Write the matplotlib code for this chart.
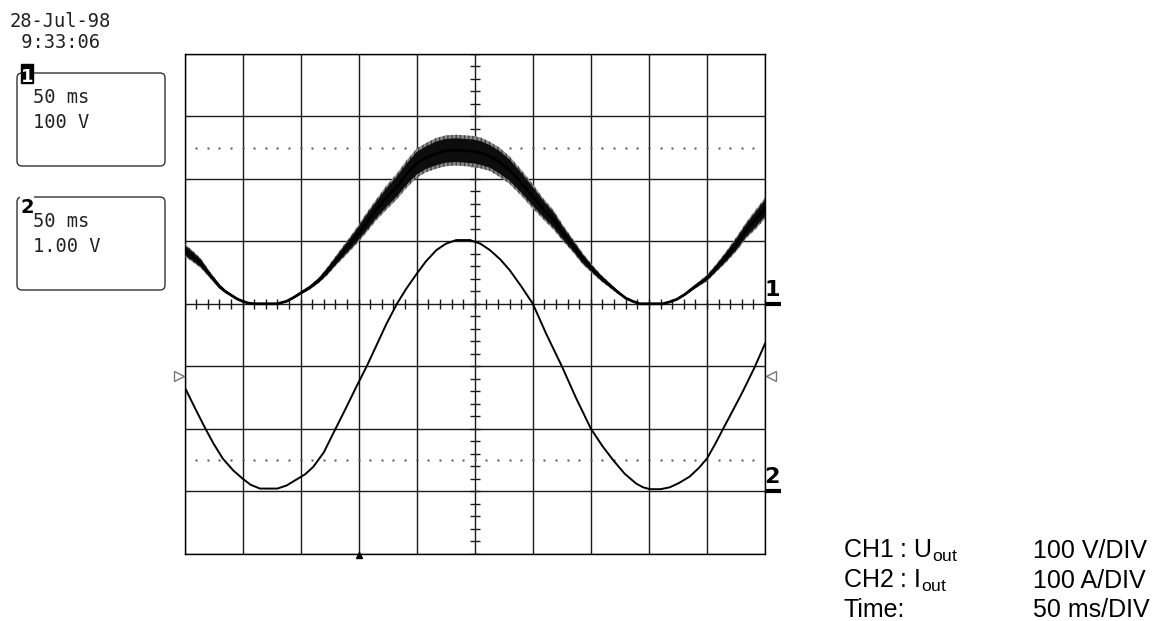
import numpy as np
import matplotlib
matplotlib.use("Agg")
import matplotlib.pyplot as plt
from matplotlib.patches import FancyBboxPatch, Rectangle

plt.rcParams['mathtext.fontset'] = 'custom'
plt.rcParams['mathtext.rm'] = 'Liberation Sans'
plt.rcParams['mathtext.it'] = 'Liberation Sans'

# Scope settings
time_per_div = 50      # ms/DIV
ch1_per_div = 100      # V/DIV
ch2_per_div = 100      # A/DIV
ch1_ground = 0         # divisions from screen centre
ch2_ground = -3

# CH1 : U_out (ms, V), plus the half height of the ripple band
ch1_t = [0, 7, 14, 22, 30, 35, 40, 45, 50, 55, 60, 80, 84, 88, 94, 100, 108, 116,
         123, 130, 139, 148, 156, 165, 174, 183, 191, 200, 208, 217, 225, 234,
         249, 256, 263, 271, 280, 290, 300, 309, 318, 326, 335, 343, 352, 359,
         366, 373, 380, 386, 392, 412, 418, 424, 431, 438, 444, 450, 458, 467,
         476, 484, 492, 500]
ch1_v = [86, 76, 65, 46, 28, 20, 14, 8, 4, 1, 0, 0, 2, 4, 10, 17, 26, 38,
         52, 68, 88, 108, 128, 150, 170, 188, 207, 225, 234, 241, 245, 246,
         244, 241, 236, 227, 214, 194, 172, 152, 134, 113, 92, 72, 54, 41,
         30, 19, 9, 4, 0, 0, 3, 7, 15, 25, 33, 41, 57, 76,
         97, 118, 135, 153]
ch1_ripple = [8, 7, 6, 4, 3, 2, 1.5, 1, 1, 0.5, 0.5, 0.5, 0.5, 1, 1, 2, 2.5, 3.5,
              5, 6, 8, 10, 12, 13, 15, 16, 17, 18, 18, 19, 19, 19,
              19, 19, 18, 18, 17, 16, 15, 13, 12, 10, 8, 7, 5, 4,
              3, 2, 1, 1, 0.5, 0.5, 0.5, 1, 1.5, 2.5, 3, 4, 5, 7,
              9, 10, 12, 13]

# CH2 : I_out (ms, A)
ch2_t = [0, 9, 18, 25, 33, 42, 50, 57, 65, 80, 88, 96, 104, 111, 120, 128, 138,
         148, 157, 166, 174, 183, 191, 200, 208, 217, 225, 234, 246, 255, 263,
         272, 280, 290, 300, 312, 325, 337, 350, 360, 369, 379, 389, 395, 401,
         410, 418, 426, 435, 443, 450, 457, 464, 472, 481, 491, 500]
ch2_i = [167, 133, 100, 76, 52, 33, 20, 10, 4, 4, 9, 18, 27, 39, 62, 92, 129,
         167, 200, 236, 268, 300, 324, 348, 368, 386, 396, 402, 402, 396, 386,
         371, 354, 328, 300, 250, 200, 150, 100, 72, 50, 28, 12, 6, 3,
         3, 6, 13, 23, 37, 52, 75, 100, 128, 160, 198, 236]

trig_level = -1.16     # divisions
trig_time = 150        # ms

legend_left = ['CH1 : U$_{\\mathrm{out}}$', 'CH2 : I$_{\\mathrm{out}}$', 'Time:']
legend_right = ['100 V/DIV', '100 A/DIV', '50 ms/DIV']

W, H = 1161, 621
fig = plt.figure(figsize=(W / 100, H / 100), dpi=100)

# overlay in pixel coords for the side panels
ov = fig.add_axes([0, 0, 1, 1])
ov.set_xlim(0, W)
ov.set_ylim(H, 0)
ov.axis('off')

ax = fig.add_axes([184.5 / W, 1 - 553.5 / H, (765 - 184.5) / W, (553.5 - 54) / H])
ax.set_xlim(0, 10 * time_per_div)
ax.set_ylim(-4, 4)
ax.set_xticks(np.arange(0, 10 * time_per_div + 1, time_per_div))
ax.set_yticks(np.arange(-4, 5, 1))
ax.tick_params(length=0, labelbottom=False, labelleft=False)
ax.grid(True, color='#1a1a1a', lw=1.0)
for s in ax.spines.values():
    s.set_color('black')
    s.set_linewidth(1.0)

# minor ticks on the centre lines
minor_x = np.arange(0, 10 * time_per_div + 1, time_per_div / 5)
ax.vlines(minor_x, -0.08, 0.08, color='#1a1a1a', lw=1.0)
minor_y = np.arange(-4, 4.01, 0.2)
ax.hlines(minor_y, 5 * time_per_div - 4.3, 5 * time_per_div + 4.3, color='#1a1a1a', lw=1.0)

# dotted reference lines
dots_x = np.arange(time_per_div / 5, 10 * time_per_div, time_per_div / 5)
for lvl in (2.5, -2.5):
    ax.plot(dots_x, np.full(len(dots_x), lvl), ls='none', marker='s', ms=1.5,
            mec='none', mfc='#555555')

# traces
t1 = np.array(ch1_t)
y1 = np.array(ch1_v) / ch1_per_div + ch1_ground
r1 = np.array(ch1_ripple) / ch1_per_div
ax.fill_between(t1, y1 - 1.3 * r1, y1 + 1.3 * r1, facecolor='#8a8a8a', edgecolor='#444444',
                hatch='||||', lw=0, zorder=3)
ax.fill_between(t1, y1 - r1, y1 + r1, facecolor='#0d0d0d', lw=0, zorder=3)
ax.plot(t1, y1, color='black', lw=2.0, zorder=4)

t2 = np.array(ch2_t)
y2 = np.array(ch2_i) / ch2_per_div + ch2_ground
ax.plot(t2, y2, color='black', lw=1.4, zorder=4)

# ground markers
for lab, g in (('1', ch1_ground), ('2', ch2_ground)):
    ax.plot([500, 514], [g, g], color='black', lw=3, clip_on=False, solid_capstyle='butt')
    ax.text(506, g + 0.06, lab, fontsize=16, fontweight='bold', ha='center', va='bottom',
            family='DejaVu Sans')

# trigger markers
ax.plot([-4.8], [trig_level], marker='>', ms=7, mfc='white', mec='#777777', clip_on=False)
ax.plot([505], [trig_level], marker='<', ms=7, mfc='white', mec='#777777', clip_on=False)
ax.plot([trig_time], [-4.03], marker='^', ms=5, color='black', clip_on=False)

# date/time stamp and channel boxes
mono = dict(family='DejaVu Sans Mono', fontsize=13.5, color='#222222')
ov.text(10, 27, '28-Jul-98', va='baseline', **mono)
ov.text(10, 48, ' 9:33:06', va='baseline', **mono)

for top, lines in ((73, ['50 ms', '100 V']), (197, ['50 ms', '1.00 V'])):
    ov.add_patch(FancyBboxPatch((17, top), 148, 93, boxstyle='round,pad=0,rounding_size=5',
                                fc='none', ec='#333333', lw=1.0))
    ov.text(33, top + 30, lines[0], va='baseline', **mono)
    ov.text(33, top + 55, lines[1], va='baseline', **mono)

ov.add_patch(Rectangle((21, 64), 12, 19, fc='black', ec='black', zorder=5))
ov.text(27, 82, '1', color='white', fontsize=13, fontweight='bold', ha='center',
        va='baseline', zorder=6)
ov.add_patch(Rectangle((20, 192), 14, 12, fc='white', ec='none', zorder=5))
ov.text(27, 213, '2', color='black', fontsize=14, fontweight='bold', ha='center',
        va='baseline', zorder=6)

# channel legend
for i, (a, b) in enumerate(zip(legend_left, legend_right)):
    yb = 558 + 29.5 * i
    ov.text(843, yb, a, family='Liberation Sans', fontsize=18, va='baseline')
    ov.text(1033, yb, b, family='Liberation Sans', fontsize=18, va='baseline')

fig.savefig('out.png', dpi=100)
